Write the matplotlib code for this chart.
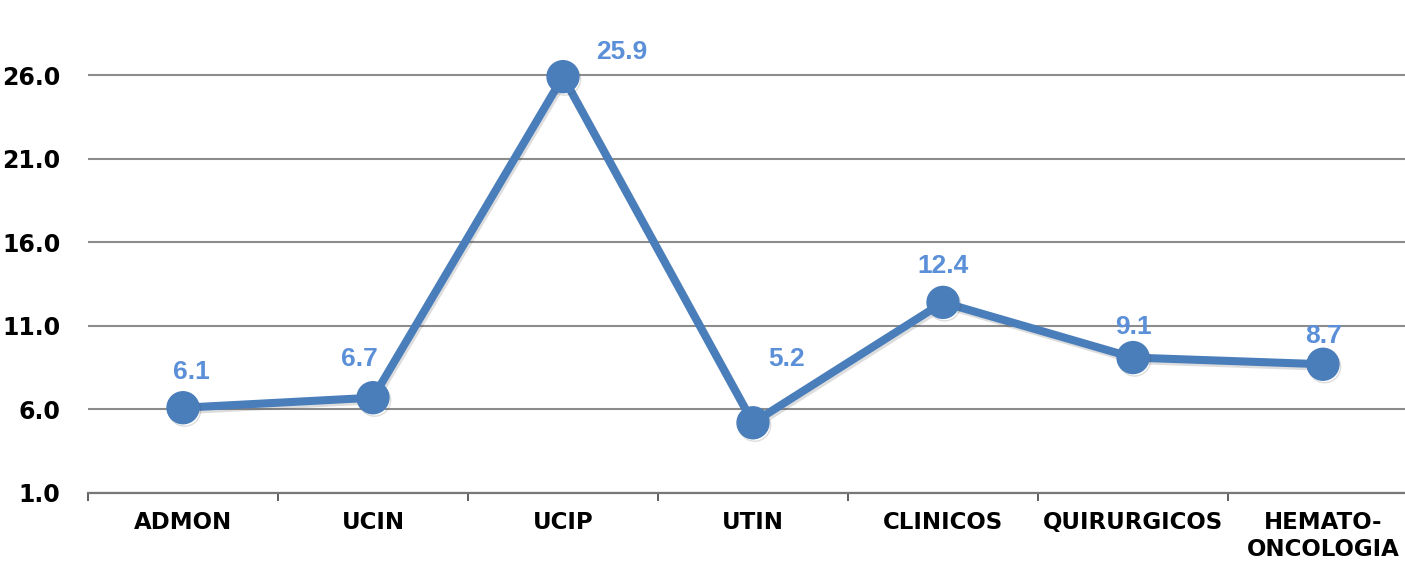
import matplotlib
matplotlib.use("Agg")
import matplotlib.pyplot as plt
import matplotlib.patheffects as pe
import numpy as np

categorias = ["ADMON", "UCIN", "UCIP", "UTIN", "CLINICOS", "QUIRURGICOS", "HEMATO-\nONCOLOGIA"]
valores = [6.1, 6.7, 25.9, 5.2, 12.4, 9.1, 8.7]
yticks = [1.0, 6.0, 11.0, 16.0, 21.0, 26.0]

# desplazamiento de cada etiqueta de dato (puntos)
offsets = [(6, 26), (-10, 28), (42, 18), (24, 46), (0, 26), (0, 22), (0, 20)]

AZUL = "#4a7ebb"
AZUL_TXT = "#5b8fd8"

fig = plt.figure(figsize=(14.05, 5.62), dpi=100)
# el área de trazado se sale un poco por la derecha, como en el original
x0, y0 = 88 / 1405, (562 - 493) / 562
ax = fig.add_axes([x0, y0, 1330 / 1405, 0.9])

x = np.arange(len(categorias))
ax.plot(x, valores, color=AZUL, lw=5.8, marker="o", ms=23, mfc=AZUL, mec=AZUL,
        solid_capstyle="round", zorder=3,
        path_effects=[pe.SimpleLineShadow(offset=(1.2, -1.8), alpha=0.18, shadow_color="#444444"),
                      pe.Normal()])

for xi, v, (dx, dy) in zip(x, valores, offsets):
    ax.annotate(f"{v:.1f}", (xi, v), xytext=(dx, dy), textcoords="offset points",
                ha="center", va="center", color=AZUL_TXT, fontsize=19,
                fontweight="bold", family="Liberation Sans", zorder=4)

ax.set_xlim(-0.5, len(categorias) - 0.5)
ax.set_ylim(1.0, 1.0 + 0.9 * 562 / 16.72)
ax.set_yticks(yticks)
ax.set_yticklabels([f"{t:.1f}" for t in yticks], fontsize=17, fontweight="bold")
ax.yaxis.grid(True, color="#8c8c8c", lw=1.5)
ax.set_axisbelow(True)
ax.tick_params(axis="y", length=0, pad=20)

ax.set_xticks(x)
ax.set_xticklabels(categorias, fontsize=16.5, fontweight="bold", linespacing=1.2)
ax.set_xticks(np.arange(len(categorias) + 1) - 0.5, minor=True)
ax.tick_params(axis="x", which="major", length=0, pad=13)
ax.tick_params(axis="x", which="minor", length=6, width=1.2, color="#444444", direction="out")

for s in ["top", "right", "left"]:
    ax.spines[s].set_visible(False)
ax.spines["bottom"].set_color("#777777")
ax.spines["bottom"].set_linewidth(1.6)
ax.patch.set_alpha(0)

fig.savefig("out.png", dpi=100)
